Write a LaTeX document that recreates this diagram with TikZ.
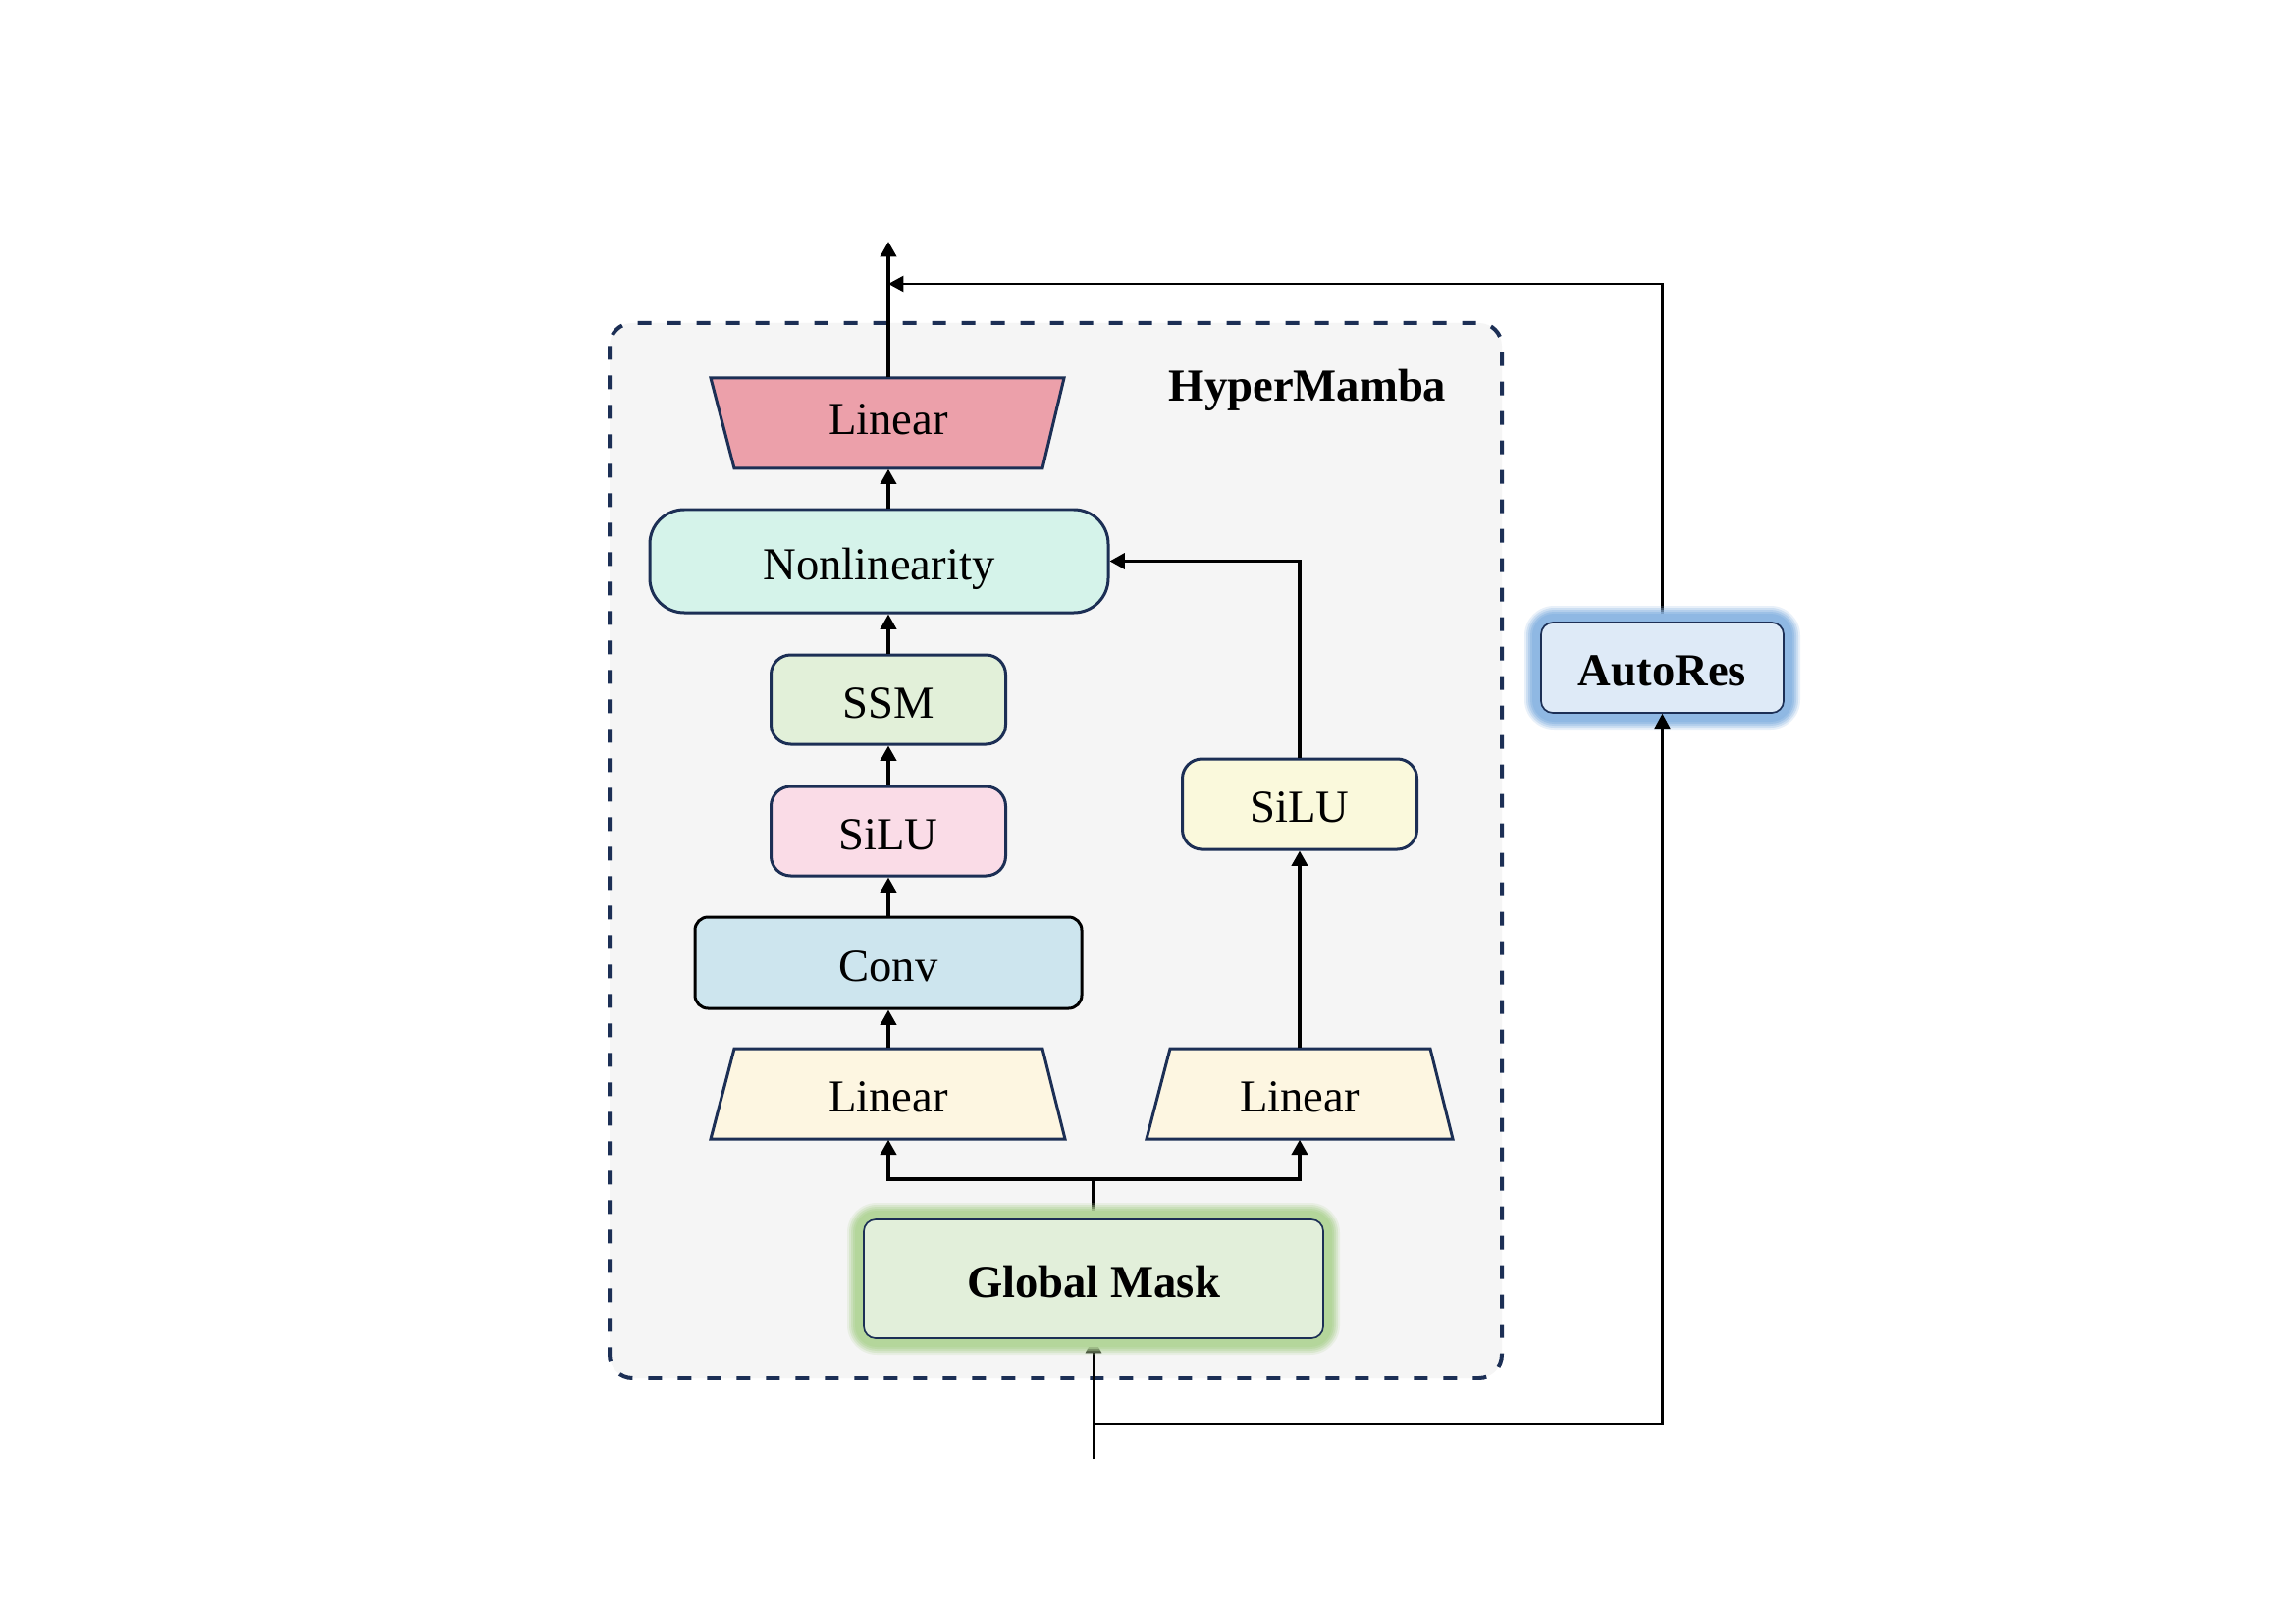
\documentclass[tikz,border=0pt]{standalone}
\usepackage{fontspec}
\setmainfont{Liberation Serif}
\usetikzlibrary{arrows.meta}
\definecolor{navy}{HTML}{1C2F55}
\definecolor{panel}{HTML}{F5F5F5}
\definecolor{pinklin}{HTML}{ECA0AA}
\definecolor{nonlin}{HTML}{D5F3EA}
\definecolor{ssmc}{HTML}{E2F0D9}
\definecolor{siluone}{HTML}{FADCE7}
\definecolor{convc}{HTML}{CDE5EE}
\definecolor{linyel}{HTML}{FDF6E1}
\definecolor{silutwo}{HTML}{FAF9DC}
\definecolor{gmc}{HTML}{E2EFDA}
\definecolor{gmglow}{HTML}{B4D69B}
\definecolor{arc}{HTML}{DEEAF7}
\definecolor{arglow}{HTML}{8FB8E3}
\tikzset{
  box/.style={draw=navy, line width=0.9pt, inner sep=0pt, align=center, text height=11.1pt, text depth=0pt},
  trapbox/.style={draw=navy, line width=0.9pt, line join=miter},
  label/.style={inner sep=0pt, align=center, text height=11.1pt, text depth=0pt},
  arr/.style={-{Triangle[length=4.6pt,width=4.8pt]}, line width=1.1pt, black},
  arrthin/.style={-{Triangle[length=4.6pt,width=4.8pt]}, line width=0.7pt, black},
}
\begin{document}
\begin{tikzpicture}[x=0.3pt,y=-0.3pt,font=\fontsize{14}{16}\selectfont]
\useasboundingbox (0,0) rectangle (2339,1654);
\fill[white] (0,0) rectangle (2339,1654);

% HyperMamba panel
\draw[navy, line width=1.2pt, dash pattern=on 4.2pt off 4.8pt, fill=panel, rounded corners=7pt]
  (621,329) rectangle (1530,1403);
\node[font=\fontsize{14}{16}\selectfont\bfseries, anchor=base] (title) at (1332,408) {HyperMamba};

% trapezoids (Linear)
\filldraw[trapbox, fill=pinklin] (724,385) -- (1084,385) -- (1062,477) -- (748,477) -- cycle;
\node[label, minimum width={314*0.3pt}, minimum height={92*0.3pt}, text height=6.6pt] (lin0) at (905,431) {Linear};
\filldraw[trapbox, fill=linyel] (748,1068) -- (1062,1068) -- (1085,1160) -- (724,1160) -- cycle;
\node[label, minimum width={314*0.3pt}, minimum height={92*0.3pt}] (lin1) at (905,1114) {Linear};
\filldraw[trapbox, fill=linyel] (1192,1068) -- (1457,1068) -- (1480,1160) -- (1168,1160) -- cycle;
\node[label, minimum width={265*0.3pt}, minimum height={92*0.3pt}] (lin2) at (1324,1114) {Linear};

% boxes
\node[box, fill=nonlin, rounded corners=10.5pt, minimum width={467*0.3pt}, minimum height={105*0.3pt}] (nl) at (895.5,571.5) {Nonlinearity};
\node[box, fill=ssmc, rounded corners=6pt, minimum width={239*0.3pt}, minimum height={91*0.3pt}] (ssm) at (905,712.5) {SSM};
\node[box, fill=siluone, rounded corners=6pt, minimum width={239*0.3pt}, minimum height={91*0.3pt}] (siluA) at (905,846.5) {SiLU};
\node[box, draw=black, fill=convc, rounded corners=4pt, minimum width={394*0.3pt}, minimum height={93*0.3pt}] (conv) at (905,980.5) {Conv};
\node[box, fill=silutwo, rounded corners=6pt, minimum width={239*0.3pt}, minimum height={92*0.3pt}] (siluB) at (1324,819) {SiLU};

% coordinates
\coordinate (out) at (905,246);
\coordinate (fb) at (905,289);
\coordinate (br) at (1114,1201);
\coordinate (in) at (1114,1486);
\coordinate (inbr) at (1114,1450);

% connectors (drawn before glowing boxes)
\draw[arr] (lin0.north) -- (out);
\draw[arr] (nl.north -| lin0.south) -- (lin0.south);
\draw[arr] (ssm.north) -- (ssm.north |- nl.south);
\draw[arr] (siluA.north) -- (ssm.south);
\draw[arr] (conv.north) -- (siluA.south);
\draw[arr] (lin1.north) -- (conv.south);
\draw[arr] (lin2.north) -- (siluB.south);
\draw[arr, line width=1pt] (siluB.north) |- (nl.east);
\draw[line width=1.1pt] (1114,1272) -- (br);
\draw[arr] (br) -| (lin1.south);
\draw[arr] (br) -| (lin2.south);
\draw[arr, line width=0.9pt] (in) -- (1114,1363);
\draw[line width=0.7pt] (1693.5,680) |- (inbr);
\draw[arrthin] (1693.5,680) |- (fb);

% glows
\foreach \o/\op in {17/0.2,15/0.3,13/0.4,11/0.6,9/1} {
  \fill[gmglow, opacity=\op, rounded corners={(4+\o*0.3)*1pt}] (880-\o,1242-\o) rectangle (1348+\o,1363+\o);
  \fill[arglow, opacity=\op, rounded corners={(4+\o*0.3)*1pt}] (1570-\o,634-\o) rectangle (1817+\o,726+\o);
}

% glowing boxes
\node[box, line width=0.5pt, fill=gmc, rounded corners=3.6pt, minimum width={468*0.3pt}, minimum height={121*0.3pt}, font=\fontsize{14}{16}\selectfont\bfseries] (gm) at (1114,1302.5) {Global Mask};
\node[box, line width=0.5pt, fill=arc, rounded corners=3.6pt, minimum width={247*0.3pt}, minimum height={92*0.3pt}, font=\fontsize{14}{16}\selectfont\bfseries] (ar) at (1693.5,680) {AutoRes};
\draw[arrthin] (ar.south |- 0,780) -- (ar.south);
\end{tikzpicture}
\end{document}
